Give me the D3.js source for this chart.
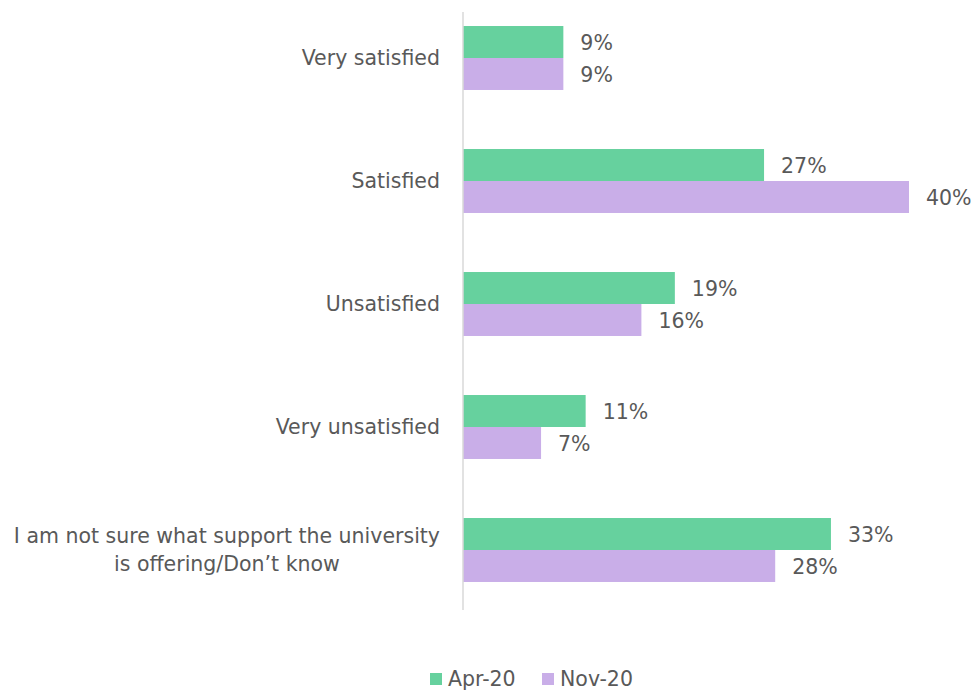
<!DOCTYPE html>
<html>
<head>
<meta charset="utf-8">
<script src="https://cdn.jsdelivr.net/npm/d3@7"></script>
<style>
  html, body { margin: 0; padding: 0; background: #fff; }
  svg { display: block; font-family: "DejaVu Sans", "Liberation Sans", Arial, sans-serif; }
</style>
</head>
<body>
<svg id="chart" width="975" height="690"></svg>
<script>
// Survey responses: satisfaction with university support
const categories = [
  ["Very satisfied"],
  ["Satisfied"],
  ["Unsatisfied"],
  ["Very unsatisfied"],
  ["I am not sure what support the university", "is offering/Don\u2019t know"]
];
const seriesNames = ["Apr-20", "Nov-20"];
const apr20 = [9, 27, 19, 11, 33];
const nov20 = [9, 40, 16, 7, 28];
const seriesColors = ["#66D19E", "#C9AEE8"];

const svg = d3.select("#chart");
const textColor = "#595959";
const fontSize = 20.5;

const keys = categories.map(c => c.join(" "));
const rows = keys.map((k, i) => ({ key: k, lines: categories[i], values: [apr20[i], nov20[i]] }));

const axisX = 463;
const x = d3.scaleLinear().domain([0, 40]).range([axisX, 909]);

const y = d3.scaleBand()
  .domain(keys)
  .range([-3.5, 611.5])
  .paddingInner(0.48)
  .paddingOuter(0.24);

const ySub = d3.scaleBand()
  .domain(seriesNames)
  .range([0, y.bandwidth()]);

// Bars and value labels
const groups = svg.append("g")
  .selectAll("g")
  .data(rows)
  .join("g")
  .attr("transform", d => `translate(0,${y(d.key)})`);

groups.selectAll("rect")
  .data(d => d.values.map((v, j) => ({ v, s: seriesNames[j], j })))
  .join("rect")
  .attr("x", x(0))
  .attr("y", d => ySub(d.s))
  .attr("width", d => x(d.v) - x(0))
  .attr("height", ySub.bandwidth())
  .attr("fill", d => seriesColors[d.j]);

groups.selectAll("text.value")
  .data(d => d.values.map((v, j) => ({ v, s: seriesNames[j], j })))
  .join("text")
  .attr("class", "value")
  .attr("x", d => x(d.v) + 17)
  .attr("y", d => ySub(d.s) + ySub.bandwidth() / 2 + 1)
  .attr("dy", "0.35em")
  .attr("fill", textColor)
  .attr("font-size", fontSize)
  .text(d => d.v + "%");

// Vertical category axis line
svg.append("line")
  .attr("x1", axisX).attr("x2", axisX)
  .attr("y1", 12).attr("y2", 610)
  .attr("stroke", "#d9d9d9")
  .attr("stroke-width", 1.5);

// Category labels: right-aligned block, lines centred within it
const labelRight = 440;
const lineHeight = 28;
rows.forEach(d => {
  const cy = y(d.key) + y.bandwidth() / 2;
  const g = svg.append("g");
  const texts = d.lines.map((line, i) =>
    g.append("text")
      .attr("y", cy + (i - (d.lines.length - 1) / 2) * lineHeight)
      .attr("dy", "0.35em")
      .attr("fill", textColor)
      .attr("font-size", fontSize)
      .text(line)
  );
  if (d.lines.length === 1) {
    texts[0].attr("x", labelRight).attr("text-anchor", "end");
  } else {
    const w = d3.max(texts, t => t.node().getComputedTextLength());
    texts.forEach(t => t.attr("x", labelRight - w / 2).attr("text-anchor", "middle"));
  }
});

// Legend
const legendData = [
  { name: seriesNames[0], color: seriesColors[0], x: 430 },
  { name: seriesNames[1], color: seriesColors[1], x: 542 }
];
const legend = svg.append("g");
legendData.forEach(d => {
  legend.append("rect")
    .attr("x", d.x).attr("y", 673)
    .attr("width", 12).attr("height", 12)
    .attr("fill", d.color);
  legend.append("text")
    .attr("x", d.x + 18).attr("y", 679)
    .attr("dy", "0.35em")
    .attr("fill", textColor)
    .attr("font-size", fontSize)
    .text(d.name);
});
</script>
</body>
</html>
